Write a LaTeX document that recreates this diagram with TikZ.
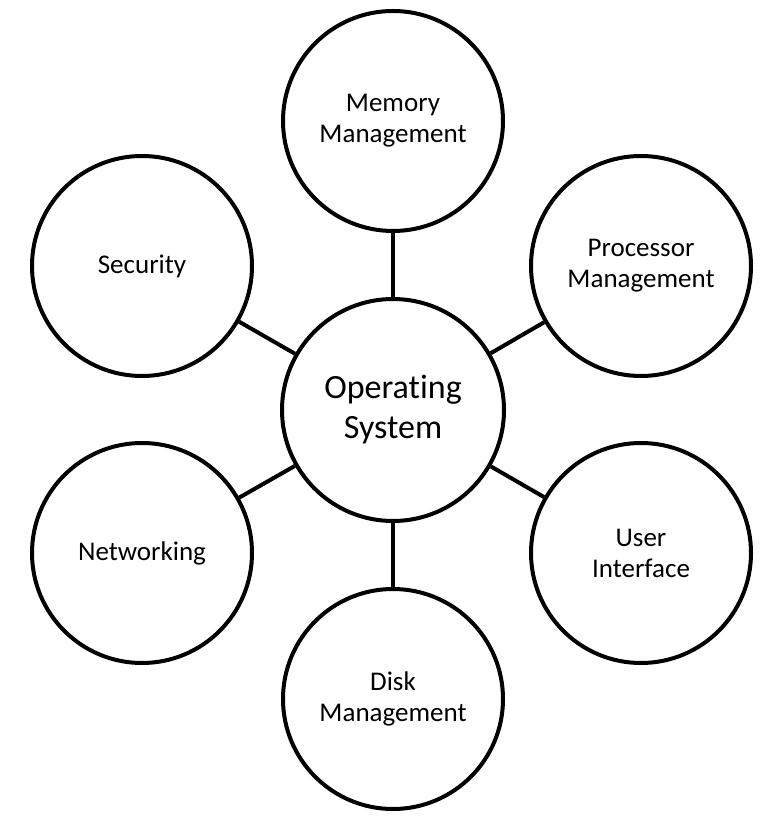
\documentclass[tikz,border=0pt]{standalone}
\usepackage{fontspec}
\setmainfont[Ligatures=NoCommon]{Carlito}
\usetikzlibrary{positioning}
\tikzstyle{hub} = [circle, minimum size=111pt, inner sep=0pt, line width=2pt, draw=black, fill=white, text centered, align=center, font=\fontsize{17}{20}\selectfont]
\tikzstyle{task} = [circle, minimum size=110pt, inner sep=0pt, line width=2pt, draw=black, fill=white, text centered, align=center, font=\fontsize{13.5}{15.5}\selectfont]
\tikzstyle{link} = [line width=2pt]
\begin{document}
\begin{tikzpicture}[x=0.5pt, y=-0.5pt]
	\useasboundingbox (0,0) rectangle (778,822);
	\node (os) [hub] at (393,410) {Operating\\System};
	\node (memory) [task, above = 32pt of os] {Memory\\Management};
	\node (disk) [task, below = 32pt of os] {Disk\\Management};
	\node (security) [task] at (142,266) {Security};
	\node (networking) [task] at (142,553) {Networking};
	\node (processor) [task] at (641,266) {Processor\\Management};
	\node (userIf) [task] at (641,553) {User\\Interface};
	\draw [link] (os) -- (memory);
	\draw [link] (os) -- (disk);
	\draw [link] (os) -- (security);
	\draw [link] (os) -- (networking);
	\draw [link] (os) -- (processor);
	\draw [link] (os) -- (userIf);
\end{tikzpicture}
\end{document}
